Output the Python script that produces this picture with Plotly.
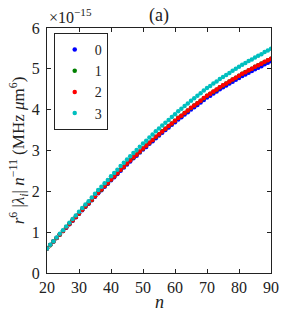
import plotly.graph_objects as go

n_values = list(range(20, 91))

# values in units of 1e-15 MHz um^6
series_0 = [0.600, 0.685, 0.770, 0.855, 0.940, 1.026, 1.111, 1.196, 1.281, 1.366,
            1.451, 1.536, 1.621, 1.696, 1.781, 1.867, 1.952, 2.027, 2.112, 2.187,
            2.272, 2.347, 2.422, 2.507, 2.582, 2.658, 2.733, 2.808, 2.873, 2.948,
            3.023, 3.088, 3.163, 3.228, 3.303, 3.369, 3.434, 3.499, 3.564, 3.629,
            3.694, 3.760, 3.816, 3.882, 3.938, 4.005, 4.061, 4.117, 4.173, 4.239,
            4.295, 4.341, 4.397, 4.443, 4.499, 4.546, 4.592, 4.638, 4.684, 4.730,
            4.776, 4.823, 4.860, 4.907, 4.944, 4.991, 5.027, 5.064, 5.111, 5.148,
            5.187]
series_1 = [0.60, 0.68, 0.77, 0.86, 0.94, 1.03, 1.12, 1.20, 1.29, 1.37,
            1.46, 1.55, 1.63, 1.71, 1.79, 1.88, 1.97, 2.04, 2.13, 2.20,
            2.29, 2.37, 2.44, 2.53, 2.60, 2.68, 2.76, 2.83, 2.90, 2.97,
            3.05, 3.12, 3.19, 3.26, 3.33, 3.40, 3.47, 3.53, 3.60, 3.66,
            3.73, 3.80, 3.85, 3.92, 3.98, 4.04, 4.10, 4.16, 4.22, 4.28,
            4.34, 4.39, 4.44, 4.49, 4.55, 4.59, 4.64, 4.69, 4.74, 4.78,
            4.83, 4.88, 4.92, 4.96, 5.00, 5.05, 5.09, 5.13, 5.17, 5.21,
            5.25]
series_2 = [0.600, 0.686, 0.772, 0.858, 0.944, 1.030, 1.116, 1.202, 1.288, 1.374,
            1.460, 1.546, 1.632, 1.708, 1.794, 1.880, 1.966, 2.042, 2.128, 2.204,
            2.290, 2.366, 2.442, 2.528, 2.604, 2.680, 2.756, 2.832, 2.898, 2.974,
            3.050, 3.116, 3.192, 3.258, 3.334, 3.400, 3.466, 3.532, 3.598, 3.664,
            3.730, 3.797, 3.854, 3.921, 3.978, 4.045, 4.102, 4.159, 4.216, 4.283,
            4.340, 4.387, 4.444, 4.491, 4.548, 4.595, 4.642, 4.689, 4.736, 4.783,
            4.830, 4.878, 4.916, 4.964, 5.002, 5.050, 5.088, 5.126, 5.174, 5.212,
            5.250]
series_3 = [0.60, 0.69, 0.78, 0.87, 0.96, 1.05, 1.14, 1.23, 1.32, 1.41,
            1.50, 1.59, 1.68, 1.76, 1.85, 1.94, 2.03, 2.11, 2.20, 2.28,
            2.37, 2.45, 2.53, 2.62, 2.70, 2.78, 2.86, 2.94, 3.01, 3.09,
            3.17, 3.24, 3.32, 3.39, 3.47, 3.54, 3.61, 3.68, 3.75, 3.82,
            3.89, 3.96, 4.02, 4.09, 4.15, 4.22, 4.28, 4.34, 4.40, 4.47,
            4.53, 4.58, 4.64, 4.69, 4.75, 4.80, 4.85, 4.90, 4.95, 5.00,
            5.05, 5.10, 5.14, 5.19, 5.23, 5.28, 5.32, 5.36, 5.41, 5.45,
            5.49]

series_names = ["0", "1", "2", "3"]
series_colors = ["#0000ff", "#008000", "#ff0000", "#00bfbf"]
series_list = [series_0, series_1, series_2, series_3]

x_ticks = [20, 30, 40, 50, 60, 70, 80, 90]
y_ticks = [0, 1, 2, 3, 4, 5, 6]

SERIF = "Liberation Serif"
INK = "#222222"

fig = go.Figure()
for name, color, vals in zip(series_names, series_colors, series_list):
    fig.add_trace(go.Scatter(
        x=n_values, y=vals, mode="markers", name=name,
        marker=dict(color=color, size=4.5, line=dict(width=0)),
    ))

axis_common = dict(
    showgrid=False, zeroline=False, showline=True, linecolor=INK, linewidth=1,
    mirror="ticks", ticks="inside", ticklen=4, tickcolor=INK,
    tickfont=dict(family=SERIF, size=16, color=INK),
)

fig.update_layout(
    width=291, height=324,
    margin=dict(l=47, r=14, t=28, b=51),
    paper_bgcolor="white", plot_bgcolor="white",
    font=dict(family=SERIF, size=16, color=INK),
    xaxis=dict(range=[20, 90], tickvals=x_ticks, ticktext=[str(v) for v in x_ticks],
               **axis_common),
    yaxis=dict(range=[0, 6], tickvals=y_ticks, ticktext=[str(v) for v in y_ticks],
               ticklabelstandoff=3,
               title=dict(text="<i>r</i><sup>6</sup> |<i>λ<sub>i</sub></i>| <i>n</i><sup>−11</sup> (MHz <i>μ</i>m<sup>6</sup>)",
                          font=dict(family=SERIF, size=17, color=INK), standoff=2),
               **axis_common),
    showlegend=True,
    legend=dict(x=0.03, y=0.98, xanchor="left", yanchor="top",
                bordercolor=INK, borderwidth=1, bgcolor="white",
                font=dict(family=SERIF, size=14, color=INK),
                itemwidth=30, tracegroupgap=0),
    annotations=[
        dict(text="(a)", xref="paper", yref="paper", x=0.5, y=1.0, xanchor="center",
             yanchor="bottom", yshift=0, showarrow=False,
             font=dict(family=SERIF, size=18, color=INK)),
        dict(text="×10<sup>−15</sup>", xref="paper", yref="paper", x=0.0, y=1.0,
             xanchor="left", yanchor="bottom", showarrow=False,
             font=dict(family=SERIF, size=16, color=INK)),
        dict(text="<i>n</i>", xref="paper", yref="paper", x=0.5, y=0.0,
             xanchor="center", yanchor="top", yshift=-17, showarrow=False,
             font=dict(family=SERIF, size=18, color=INK)),
    ],
)

fig.write_html("out.html", config={"displayModeBar": False},
               post_script="document.body.style.margin='0';")
